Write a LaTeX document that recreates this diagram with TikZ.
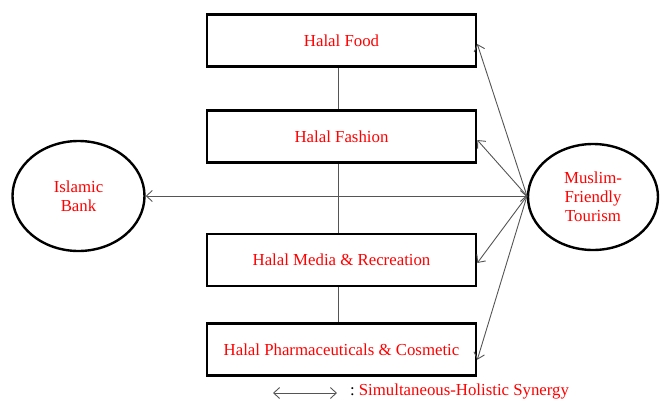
\documentclass[tikz,border=0pt]{standalone}
\usepackage{fontspec}
\setmainfont{Liberation Serif}
\usetikzlibrary{arrows.meta,shapes.geometric}
\definecolor{linkgray}{RGB}{85,85,85}
\begin{document}
\begin{tikzpicture}[x=1pt,y=-1pt,
  sector/.style={draw=black,line width=2.6pt,fill=white,minimum width=269pt,
    minimum height=52pt,inner sep=0pt,text=red,font=\fontsize{16.8}{19}\selectfont},
  pole/.style={ellipse,draw=black,line width=2.4pt,fill=white,inner sep=0pt,
    align=center,text=red,font=\fontsize{16.8}{19}\selectfont},
  link/.style={draw=linkgray,line width=0.9pt},
  synergy/.style={link,{Straight Barb[length=6pt,width=11pt]}-{Straight Barb[length=6pt,width=11pt]}},
  oneway/.style={link,-{Straight Barb[length=6pt,width=11pt]}}]
\useasboundingbox (0,0) rectangle (662,400);

% spine joining the four sectors
\coordinate (spinetop) at (338,66);
\coordinate (spinebot) at (338,324);
\draw[link] (spinetop) -- (spinebot);

% halal sectors
\node[sector] (food)   at (341.5,40.5)  {Halal Food};
\node[sector] (fashion) at (341.5,136.5) {Halal Fashion};
\node[sector] (media)  at (341.5,260)   {Halal Media \& Recreation};
\node[sector] (pharma) at (341.5,349.7) {Halal Pharmaceuticals \& Cosmetic};

% the two poles
\node[pole,minimum width=132pt,minimum height=110pt] (bank) at (78.5,196)
  {Islamic\\Bank};
\node[pole,minimum width=130pt,minimum height=106pt] (tourism) at (593,197)
  {Muslim-\\Friendly\\Tourism};

% hub on the tourism ellipse
\coordinate (hub) at (527,196);

\draw[synergy] (bank.east) -- (hub);
\draw[oneway] (hub) -- ([yshift=-3.5pt]food.east);
\draw[oneway] (hub) -- ([yshift=-3.5pt]fashion.east);
\draw[oneway] (hub) -- ([yshift=-3pt]media.east);
\draw[oneway] (hub) -- ([yshift=-10pt]pharma.east);

% legend
\coordinate (legA) at (273,393);
\coordinate (legB) at (337,393);
\draw[synergy] (legA) -- (legB);
\node[anchor=west,inner sep=0pt,font=\fontsize{16.8}{19}\selectfont] (legtext) at (350,391.5)
  {:\hspace{4pt}\textcolor{red}{Simultaneous-Holistic Synergy}};
\end{tikzpicture}
\end{document}
